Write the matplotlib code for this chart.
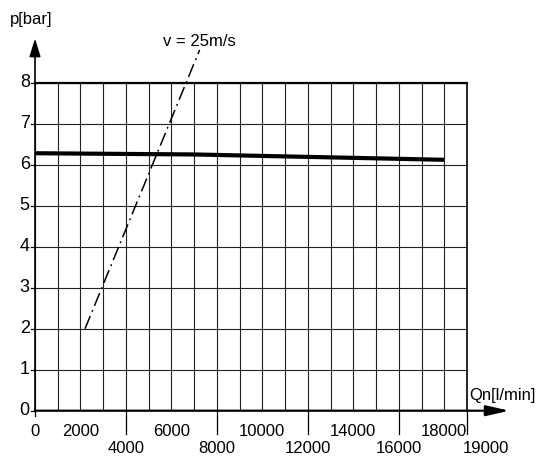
import matplotlib
matplotlib.use("Agg")
from matplotlib import pyplot as plt

# data
flow_x = [0, 7000, 18000]            # Qn [l/min]
pressure = [6.28, 6.25, 6.12]        # p [bar]
v25_x = [2200, 7240]                 # v = 25 m/s line
v25_p = [2.0, 8.8]
upper_ticks = [0, 2000, 6000, 10000, 14000, 18000]
lower_ticks = [4000, 8000, 12000, 16000, 19000]
y_ticks = [0, 1, 2, 3, 4, 5, 6, 7, 8]

plt.rcParams['font.family'] = ['Liberation Sans', 'DejaVu Sans']
fs = 12

fig = plt.figure(figsize=(5.46, 4.59), dpi=100)
ax = fig.add_axes([0.0641, 0.1052, 0.7912, 0.7146])
ax.set_xlim(0, 19000)
ax.set_ylim(0, 8)
for s in ax.spines.values():
    s.set_visible(False)
ax.set_xticks(range(0, 19001, 1000))
ax.set_yticks(y_ticks)
ax.tick_params(length=0, labelbottom=False, labelleft=False)
ax.grid(True, color='#222222', lw=0.8)

# frame: top and right border
ax.plot([0, 19000], [8, 8], color='k', lw=1.6, clip_on=False)
ax.plot([19000, 19000], [0, 8], color='k', lw=1.2, clip_on=False)

# axes with arrows
ax.annotate('', xy=(0, 9.08), xytext=(0, 0), annotation_clip=False,
            arrowprops=dict(arrowstyle='-|>,head_length=0.55,head_width=0.17',
                            mutation_scale=20, lw=1.2, color='k', shrinkA=0, shrinkB=0))
ax.annotate('', xy=(20860, 0), xytext=(0, 0), annotation_clip=False,
            arrowprops=dict(arrowstyle='-|>,head_length=0.7,head_width=0.16',
                            mutation_scale=20, lw=1.6, color='k', shrinkA=0, shrinkB=0))

# curves
ax.plot(flow_x, pressure, color='k', lw=3.0, solid_capstyle='butt')
ax.plot(v25_x, v25_p, color='k', lw=1.1, linestyle=(0, (9, 3, 1.2, 3)), clip_on=False)

# y tick marks and labels
for y in y_ticks:
    ax.plot([-180, 0], [y, y], color='k', lw=0.9, clip_on=False)
    ax.text(-230, y, str(y), ha='right', va='center', fontsize=fs + 1)

# x tick labels, staggered
ax.plot([0, 0], [0, -0.12], color='k', lw=0.9, clip_on=False)
for x in upper_ticks:
    ax.text(x, -0.5, str(x), ha='center', va='center', fontsize=fs)
for x in lower_ticks:
    ax.plot([x, x], [0, -0.56], color='k', lw=0.9, clip_on=False)
    if x == 19000:
        ax.text(x - 180, -0.93, str(x), ha='left', va='center', fontsize=fs)
    else:
        ax.text(x, -0.93, str(x), ha='center', va='center', fontsize=fs)

ax.text(-175, 9.53, 'p[bar]', ha='center', va='center', fontsize=fs)
ax.text(20570, 0.38, 'Qn[l/min]', ha='center', va='center', fontsize=fs)
ax.text(7250, 9.0, 'v = 25m/s', ha='center', va='center', fontsize=fs)

fig.savefig('out.png', dpi=100)
